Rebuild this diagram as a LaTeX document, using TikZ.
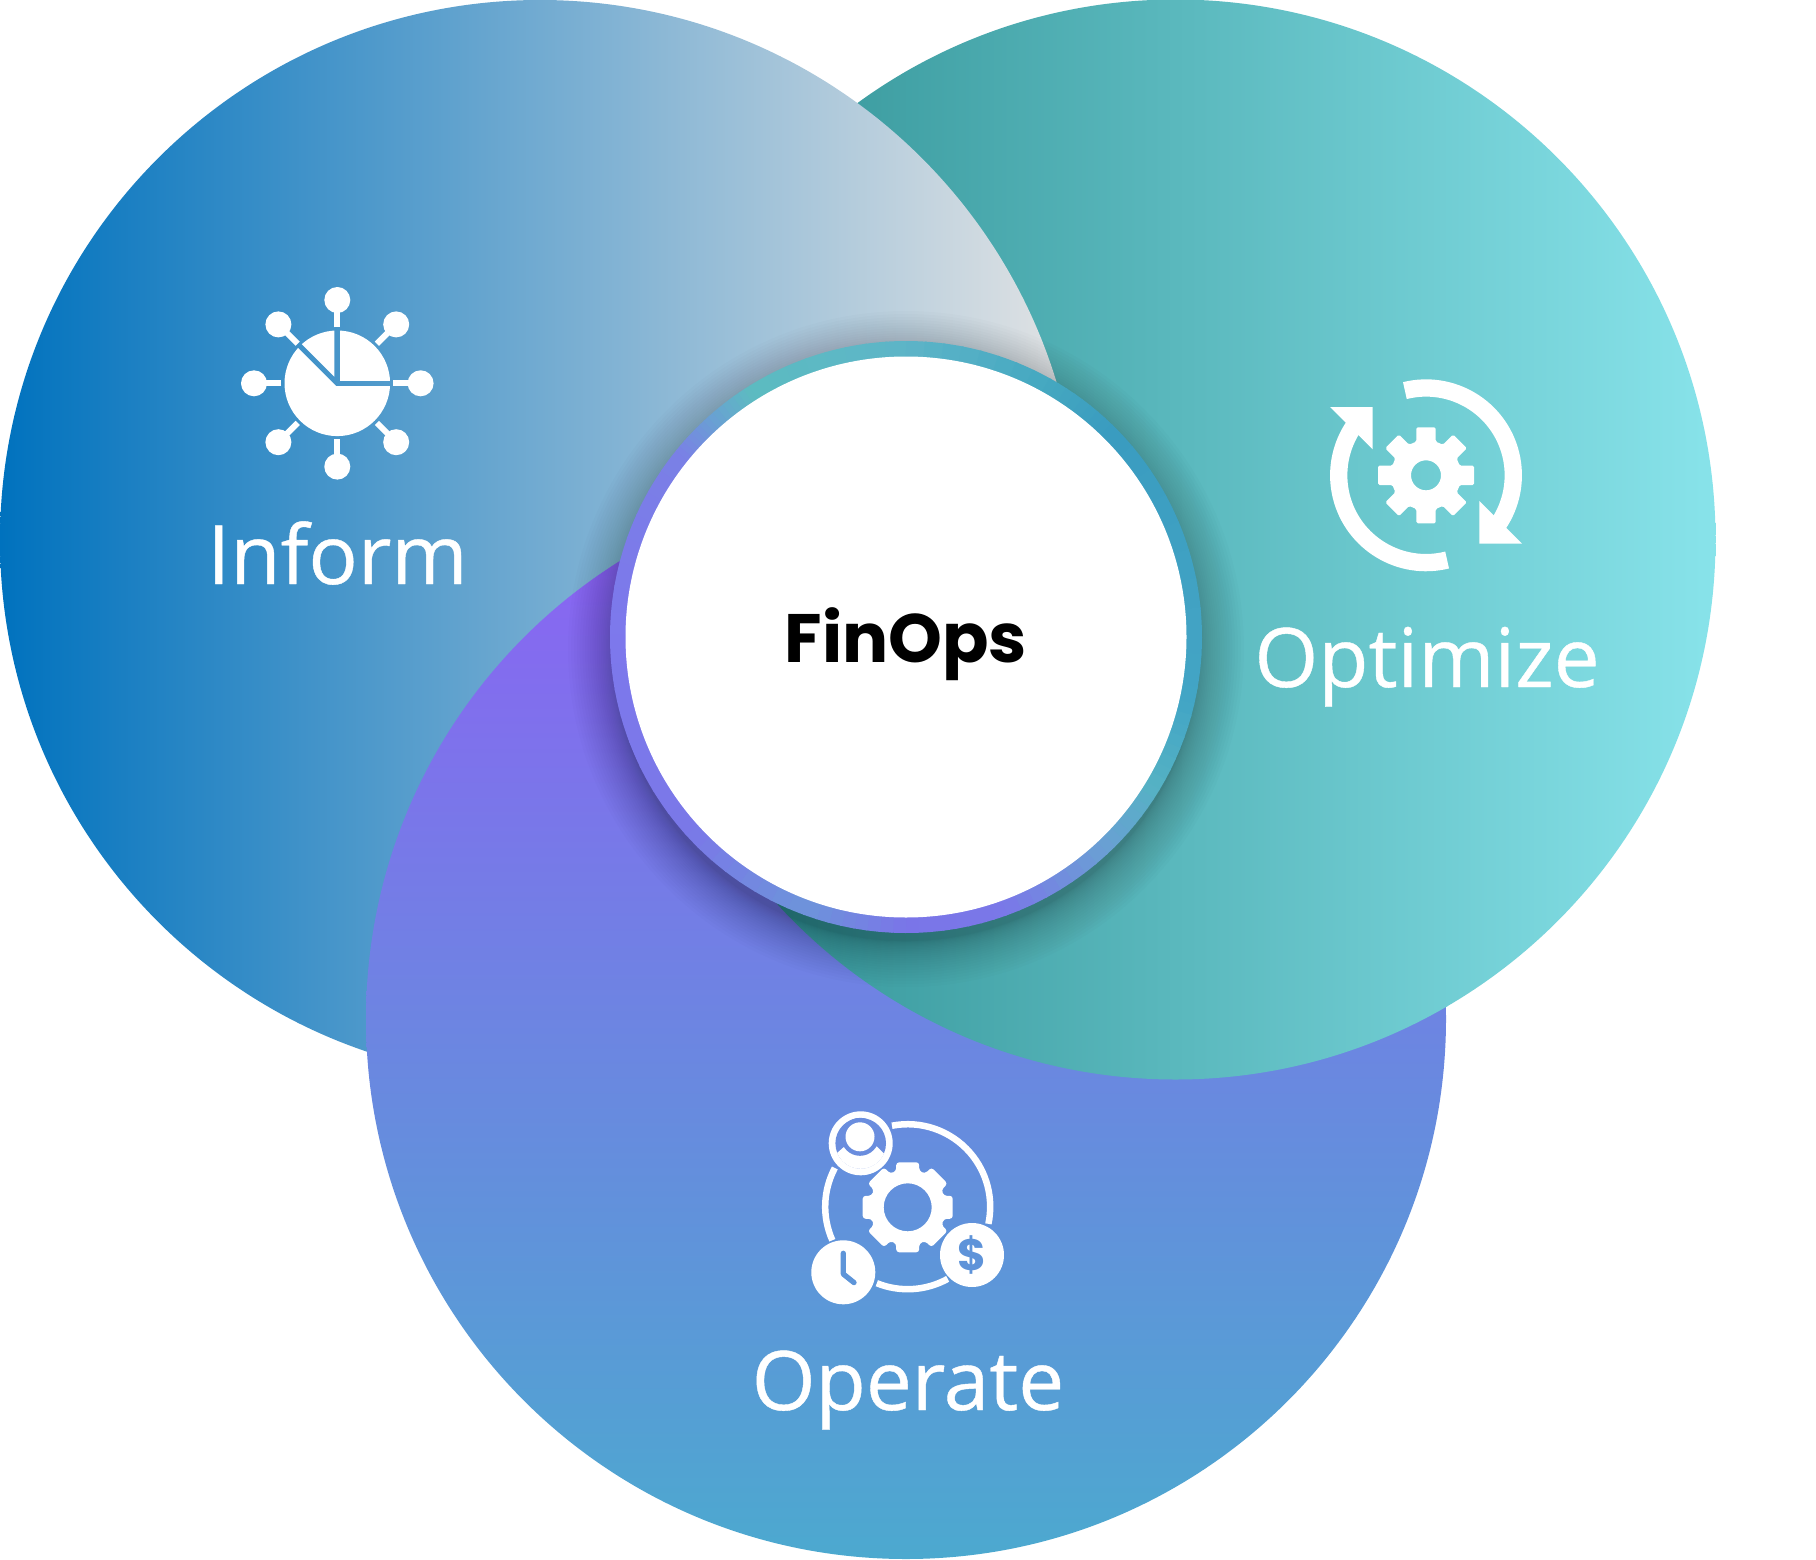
\documentclass[tikz,border=0pt]{standalone}
\usepackage{fontspec}
\setmainfont{Open Sans}
\newfontfamily\labfont{Open Sans}[FakeBold=0.5,FakeStretch=1.0]
\newfontfamily\popp{Poppins}[BoldFont={Poppins Bold}]
\usetikzlibrary{calc}
\definecolor{infA}{HTML}{0072BE}
\definecolor{infB}{HTML}{E4E4E4}
\definecolor{optA}{HTML}{2C8D90}
\definecolor{optB}{HTML}{88E3EA}
\definecolor{opeA}{HTML}{8E60F5}
\definecolor{opeB}{HTML}{4CA9CF}
\definecolor{bgPerson}{HTML}{6A8DDE}
\definecolor{bgClock}{HTML}{5E95D9}
\definecolor{bgDollar}{HTML}{5E93D9}
\definecolor{r1}{HTML}{7D78EC}\definecolor{r2}{HTML}{7A80E6}\definecolor{r3}{HTML}{6A9FD4}
\definecolor{r4}{HTML}{5CBCC0}\definecolor{r5}{HTML}{5DB4C8}\definecolor{r6}{HTML}{45A8C0}
\definecolor{r7}{HTML}{3A9CC0}\definecolor{r8}{HTML}{42A3C4}\definecolor{r9}{HTML}{42A5C5}
\definecolor{r10}{HTML}{55B2C4}\definecolor{r11}{HTML}{7A78E8}\definecolor{r12}{HTML}{7A75E8}
\definecolor{r13}{HTML}{6D94DA}
\tikzset{
  lab/.style={text=white,inner sep=0pt,anchor=base,font=\labfont\fontsize{82}{90}\selectfont},
  icoline/.style={draw=white,line cap=butt}
}
% cx cy outer body halfwidth hole corner
\newcommand{\geartool}[7]{%
  \pgfmathsetmacro{\rbx}{sqrt((#4)*(#4)-(#5)*(#5))}%
  \path[fill=white,even odd rule,rounded corners=#7]
    ([shift={(#1,#2)},rotate=-22.5]#4,0)
    \foreach \a in {0,45,...,315}{
      -- ([shift={(#1,#2)},rotate=\a]\rbx,#5)
      -- ([shift={(#1,#2)},rotate=\a]#3,#5)
      -- ([shift={(#1,#2)},rotate=\a]#3,-#5)
      -- ([shift={(#1,#2)},rotate=\a]\rbx,-#5)
    } -- cycle
    (#1,#2) circle[radius=#6];
}
\begin{document}
\begin{tikzpicture}[x=1pt,y=-1pt]
\useasboundingbox (0,0) rectangle (1816,1560);
\fill[white] (0,0) rectangle (1816,1560);
\coordinate (cInf) at (540,540);
\coordinate (cOpt) at (1175.5,539.5);
\coordinate (cOpe) at (906,1019);
\coordinate (cMid) at (906,637);
% three big discs, each over the next
\shade[left color=optA,right color=optB] (cOpt) circle[radius=540];
\shade[left color=infA,right color=infB] (cInf) circle[radius=540];
\shade[top color=opeA,bottom color=opeB] (cOpe) circle[radius=540];
\begin{scope}
  \clip (cOpe) circle[radius=542];
  \shade[left color=optA,right color=optB] (cOpt) circle[radius=540];
\end{scope}
% soft shadow
\foreach \i in {24,23,...,0}{
  \pgfmathsetmacro{\r}{292+46*pow(\i/24,1.6)}
  \fill[black,fill opacity=0.013] ($(cMid)+(0,12)$) circle[radius=\r];
}
% ring
\foreach \aa/\ab/\ca/\cb in {-180/-141/r1/r2,-141/-132/r2/r3,-132/-122/r3/r4,-122/-90/r4/r5,-90/-61/r5/r6,-61/-46/r6/r7,-46/0/r7/r8,0/13/r8/r9,13/31/r9/r10,31/47/r10/r3,47/70/r3/r11,70/90/r11/r12,90/110/r12/r13,110/138/r13/r11,138/180/r11/r1}{
  \foreach \i in {0,...,7}{
    \pgfmathsetmacro{\sa}{\aa+(\ab-\aa)*\i/8}
    \pgfmathsetmacro{\sb}{\aa+(\ab-\aa)*(\i+1)/8+0.4}
    \pgfmathsetmacro{\mx}{100*(\i+.5)/8}
    \colorlet{segc}{\cb!\mx!\ca}
    \draw[segc,line width=16pt] ([shift={(\sa:288)}]cMid) arc[start angle=\sa,end angle=\sb,radius=288];
  }
}
\fill[white] (cMid) circle[radius=280.5];
\node[inner sep=0pt,anchor=base,text=black,font=\popp\bfseries\fontsize{68.5}{80}\selectfont] (finops) at (906,662.5) {FinOps};
% Inform icon
\begin{scope}[shift={(337.3,383.3)}]
  \foreach \a in {0,45,...,315}{
    \draw[icoline,line width=6pt] (\a:56) -- (\a:80);
    \fill[white] (\a:83.3) circle[radius=13];
  }
  \begin{scope}
    \clip (0,0) circle[radius=52.8];
    \fill[white] (3,-2.7) -- (60,-2.7) -- (60,-60) -- (3,-60) -- cycle;
    \fill[white] (-3,-6.7) -- (-3,-80) -- (-70,-80) -- (-70,-73.7) -- cycle;
    \fill[white] (-1.3,2.7) -- (60,2.7) -- (60,60) -- (-60,60) -- (-60,-56) -- cycle;
  \end{scope}
\end{scope}
\node[lab] (inform) at (337.5,584) {Inform};
% Optimize icon
\draw[icoline,line width=17.3pt] ([shift={(-104:87.3)}]1426,475.3) arc[start angle=-104,end angle=35,radius=87.3];
\draw[icoline,line width=17.3pt] ([shift={(76:87.3)}]1426,475.3) arc[start angle=76,end angle=215,radius=87.3];
\fill[white] (1330,407) -- (1372.7,407) -- (1372.7,449.3) -- cycle;
\fill[white] (1479.3,501) -- (1479.3,543.7) -- (1522,543.7) -- cycle;
\geartool{1426}{475.3}{48}{35}{9.7}{15}{1.5pt}
\node[lab] (optimize) at (1427,687) {Optimize};
% Operate icon
\draw[icoline,line width=6.5pt] ([shift={(-101:82.5)}]907.7,1206.7) arc[start angle=-101,end angle=12,radius=82.5];
\draw[icoline,line width=6.5pt] ([shift={(156:82.5)}]907.7,1206.7) arc[start angle=156,end angle=208,radius=82.5];
\draw[icoline,line width=6.5pt] ([shift={(61:82.5)}]907.7,1206.7) arc[start angle=61,end angle=112,radius=82.5];
\geartool{907.7}{1207.3}{45}{38}{11.5}{24}{3pt}
% person
\begin{scope}[shift={(860.7,1143.3)}]
  \fill[white] (0,0) circle[radius=32];
  \fill[bgPerson] (0,0) circle[radius=25.3];
  \begin{scope}
    \clip (0,0) circle[radius=25.5];
    \fill[white] (-24,10) -- (-16,3) -- (16,3) -- (24,11) -- (24,40) -- (-24,40) -- cycle;
    \fill[bgPerson] (-0.7,-6.5) circle[radius=19];
  \end{scope}
  \fill[white] (-0.7,-6.5) circle[radius=14.5];
\end{scope}
% clock
\begin{scope}[shift={(843.3,1272.3)}]
  \fill[white] (0,0) circle[radius=32];
  \draw[bgClock,line width=5.3pt,line cap=round,line join=round] (0,-19) -- (0,1.7) -- (10.7,10.3);
\end{scope}
% dollar
\fill[white] (972,1255) circle[radius=32];
\node[inner sep=0pt,text=bgDollar,font=\popp\bfseries\fontsize{44}{46}\selectfont] (dollar) at (972,1255) {\$};
\node[lab] (operate) at (908,1410) {Operate};
\end{tikzpicture}
\end{document}
